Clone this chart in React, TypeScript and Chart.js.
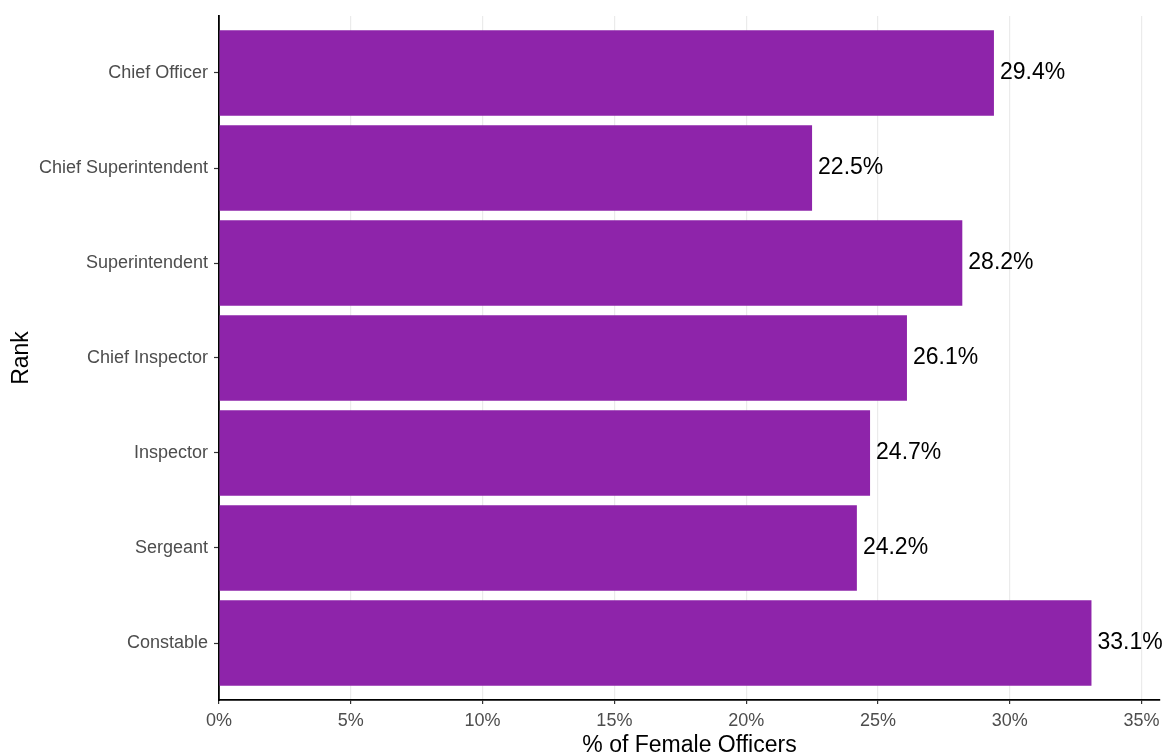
import React, { useEffect, useRef } from "react";
import { Chart, registerables } from "chart.js";

Chart.register(...registerables);

const ranks = [
  "Constable",
  "Sergeant",
  "Inspector",
  "Chief Inspector",
  "Superintendent",
  "Chief Superintendent",
  "Chief Officer",
];
const femalePct = [33.1, 24.2, 24.7, 26.1, 28.2, 22.5, 29.4];
const xTickValues = [0, 5, 10, 15, 20, 25, 30, 35];

const W = 1162;
const H = 752;
const FONT = "Arial, 'Liberation Sans', sans-serif";

const valueLabels = {
  id: "valueLabels",
  afterDatasetsDraw(chart: any) {
    const ctx = chart.ctx;
    const meta = chart.getDatasetMeta(0);
    ctx.save();
    ctx.font = "23px " + FONT;
    ctx.fillStyle = "#000000";
    ctx.textAlign = "left";
    ctx.textBaseline = "middle";
    meta.data.forEach((bar: any, i: number) => {
      ctx.fillText(femalePct[i].toFixed(1) + "%", bar.x + 6, bar.y);
    });
    ctx.restore();
  },
};

export default function App() {
  const ref = useRef<HTMLCanvasElement | null>(null);

  useEffect(() => {
    if (!ref.current) return;
    const chart = new Chart(ref.current, {
      type: "bar",
      data: {
        datasets: [
          {
            data: femalePct.map((v, i) => ({ x: v, y: i + 1 })),
            backgroundColor: "#8E24AA",
            borderWidth: 0,
            barPercentage: 0.9,
            categoryPercentage: 1.0,
          },
        ],
      },
      options: {
        indexAxis: "y",
        animation: false,
        responsive: false,
        maintainAspectRatio: false,
        layout: { padding: { top: 16, right: 2, left: 0, bottom: 0 } },
        plugins: {
          legend: { display: false },
          tooltip: { enabled: false },
        },
        scales: {
          x: {
            type: "linear",
            min: 0,
            max: 35.7,
            afterBuildTicks: (axis: any) => {
              axis.ticks = xTickValues.map((v) => ({ value: v }));
            },
            afterFit: (scale: any) => {
              scale.height = 52;
              scale.paddingLeft = 0;
              scale.paddingRight = 0;
            },
            ticks: {
              callback: (v: any) => v + "%",
              font: { size: 18, family: FONT },
              color: "#4d4d4d",
              padding: 6,
              maxRotation: 0,
            },
            grid: {
              color: "#ebebeb",
              lineWidth: 1.2,
              tickColor: "#333333",
              tickLength: 4,
              tickWidth: 1.2,
            },
            border: { color: "#000000", width: 1.8 },
            title: {
              display: true,
              text: "% of Female Officers",
              font: { size: 23, family: FONT },
              color: "#000000",
              padding: { top: 0, bottom: -7 },
            },
          },
          y: {
            type: "linear",
            min: 0.4,
            max: 7.6,
            offset: false,
            afterBuildTicks: (axis: any) => {
              axis.ticks = ranks.map((_, i) => ({ value: i + 1 }));
            },
            afterFit: (scale: any) => {
              scale.width = 219;
              scale.paddingTop = 0;
              scale.paddingBottom = 0;
            },
            ticks: {
              callback: (v: any) => ranks[Math.round(v) - 1] ?? "",
              font: { size: 18, family: FONT },
              color: "#4d4d4d",
              padding: 6,
            },
            grid: {
              offset: false,
              drawOnChartArea: false,
              tickColor: "#333333",
              tickLength: 5,
              tickWidth: 1.2,
            },
            border: { color: "#000000", width: 1.8 },
            title: {
              display: true,
              text: "Rank",
              font: { size: 23, family: FONT },
              color: "#000000",
              padding: { top: 8, bottom: 0 },
            },
          },
        },
      },
      plugins: [valueLabels],
    });
    return () => chart.destroy();
  }, []);

  return (
    <div style={{ position: "fixed", left: 0, top: 0, width: W, height: H, background: "#fff" }}>
      <canvas ref={ref} width={W} height={H} style={{ width: W, height: H, display: "block" }} />
    </div>
  );
}
